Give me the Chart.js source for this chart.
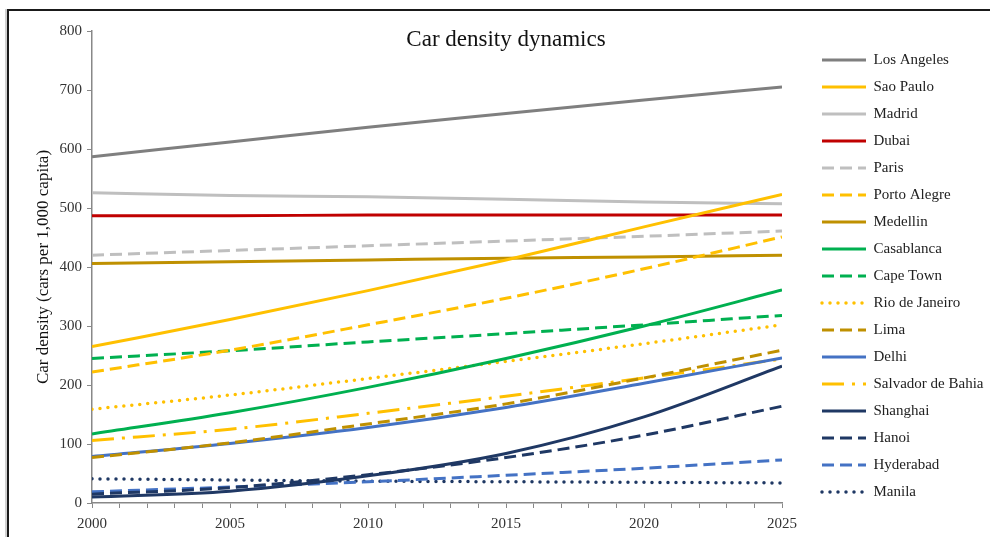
<!DOCTYPE html>
<html>
<head>
<meta charset="utf-8">
<script src="https://cdn.jsdelivr.net/npm/chart.js@4.4.1/dist/chart.umd.min.js"></script>
<style>
  html, body { margin: 0; padding: 0; background: #fff; }
  #frame { position: absolute; left: 7px; top: 9px; width: 1000px; height: 600px;
           border-left: 2px solid #1a1a1a; border-top: 2px solid #1a1a1a;
           box-shadow: -2px 0 0 #d0d0d0; }
  #wrap { position: absolute; left: 0; top: 0; width: 990px; height: 537px; }
</style>
</head>
<body>
<div id="frame"></div>
<div id="wrap"><canvas id="carDensity" width="990" height="537"></canvas></div>
<script>
const years = [2000, 2005, 2010, 2015, 2020, 2025];

const losAngeles   = [587, 612, 637, 660, 683, 705];
const saoPaulo     = [265, 311, 360, 412, 468, 523];
const madrid       = [526, 521, 519, 515, 510, 507];
const dubai        = [487, 487, 488, 488, 488, 488];
const paris        = [420, 428, 436, 444, 452, 461];
const portoAlegre  = [222, 259, 302, 347, 397, 451];
const medellin     = [406, 409, 412, 415, 417, 420];
const casablanca   = [117, 153, 196, 245, 300, 361];
const capeTown     = [245, 258, 273, 287, 302, 318];
const rioDeJaneiro = [159, 183, 211, 240, 270, 302];
const lima         = [77, 102, 134, 168, 212, 259];
const delhi        = [79, 101, 128, 162, 203, 246];
const salvador     = [106, 125, 152, 181, 212, 244];
const shanghai     = [10, 20, 46, 84, 146, 232];
const hanoi        = [15, 26, 48, 77, 115, 164];
const hyderabad    = [19, 27, 36, 47, 59, 73];
const manila       = [41, 39, 37, 36, 35, 34];

const serif = '"Liberation Serif", "Times New Roman", serif';

function series(label, values, color, dash, cap) {
    return {
        label: label,
        data: years.map((y, i) => ({ x: y, y: values[i] })),
        borderColor: color,
        backgroundColor: color,
        borderWidth: cap === 'round' ? 3.5 : 3,
        borderDash: dash || [],
        borderCapStyle: cap || 'butt',
        pointRadius: 0,
        cubicInterpolationMode: 'monotone',
        fill: false
    };
}

const dashed = [12, 6];
const dotted = [0, 8];

const titlePlugin = {
    id: 'chartTitle',
    afterDraw(chart) {
        const ctx = chart.ctx;
        ctx.save();
        ctx.font = '23px ' + serif;
        ctx.fillStyle = '#111';
        ctx.textAlign = 'center';
        ctx.textBaseline = 'middle';
        ctx.fillText('Car density dynamics', 506, 40);
        ctx.restore();
    }
};

const carDensityChart = new Chart(document.getElementById('carDensity'), {
    type: 'line',
    data: {
        datasets: [
            series('Los Angeles', losAngeles, '#7f7f7f'),
            series('Sao Paulo', saoPaulo, '#ffc000'),
            series('Madrid', madrid, '#bfbfbf'),
            series('Dubai', dubai, '#c00000'),
            series('Paris', paris, '#bfbfbf', dashed),
            series('Porto Alegre', portoAlegre, '#ffc000', dashed),
            series('Medellin', medellin, '#bf9000'),
            series('Casablanca', casablanca, '#00b050'),
            series('Cape Town', capeTown, '#00b050', dashed),
            series('Rio de Janeiro', rioDeJaneiro, '#ffc000', dotted, 'round'),
            series('Lima', lima, '#bf9000', dashed),
            series('Delhi', delhi, '#4472c4'),
            series('Salvador de Bahia', salvador, '#ffc000', [22, 8, 3, 8]),
            series('Shanghai', shanghai, '#1f3864'),
            series('Hanoi', hanoi, '#1f3864', dashed),
            series('Hyderabad', hyderabad, '#4472c4', dashed),
            series('Manila', manila, '#1f3864', dotted, 'round')
        ]
    },
    options: {
        responsive: false,
        animation: false,
        layout: {
            padding: { top: 31, right: 0, bottom: 0, left: 0 }
        },
        plugins: {
            legend: {
                position: 'right',
                align: 'start',
                maxWidth: 180,
                title: {
                    display: true,
                    text: '',
                    font: { size: 5 },
                    padding: { top: 0, bottom: 3.5 }
                },
                labels: {
                    usePointStyle: true,
                    pointStyle: 'line',
                    pointStyleWidth: 44,
                    padding: 12,
                    color: '#222',
                    font: { family: serif, size: 15 },
                    generateLabels(chart) {
                        const items = Chart.defaults.plugins.legend.labels.generateLabels(chart);
                        items.forEach(item => {
                            const ds = chart.data.datasets[item.datasetIndex];
                            item.lineDash = ds.borderDash;
                            item.lineCap = ds.borderCapStyle;
                            item.lineWidth = ds.borderWidth;
                            item.strokeStyle = ds.borderColor;
                        });
                        return items;
                    }
                }
            },
            tooltip: { enabled: false }
        },
        scales: {
            x: {
                type: 'linear',
                min: 2000,
                max: 2025,
                grid: {
                    drawOnChartArea: false,
                    drawTicks: true,
                    tickLength: 5,
                    color: '#888'
                },
                border: { color: '#888', width: 1.5 },
                ticks: {
                    stepSize: 1,
                    autoSkip: false,
                    maxRotation: 0,
                    padding: 7,
                    color: '#333',
                    font: { family: serif, size: 15 },
                    callback: v => (v % 5 === 0 ? String(v) : '')
                },
                afterFit(scale) { scale.height = 34; }
            },
            y: {
                min: 0,
                max: 800,
                grid: {
                    drawOnChartArea: false,
                    drawTicks: true,
                    tickLength: 5,
                    color: '#888'
                },
                border: { color: '#888', width: 1.5 },
                ticks: {
                    stepSize: 100,
                    padding: 5,
                    color: '#333',
                    font: { family: serif, size: 15 }
                },
                title: {
                    display: true,
                    text: 'Car density (cars per 1,000 capita)',
                    color: '#111',
                    font: { family: serif, size: 17 },
                    padding: { top: 33, bottom: 0 }
                },
                afterFit(scale) { scale.width = 92; }
            },
            spacer: {
                position: 'right',
                display: true,
                grid: { display: false },
                border: { display: false },
                ticks: { display: false },
                afterFit(scale) { scale.width = 28; }
            }
        }
    },
    plugins: [titlePlugin]
});
</script>
</body>
</html>
